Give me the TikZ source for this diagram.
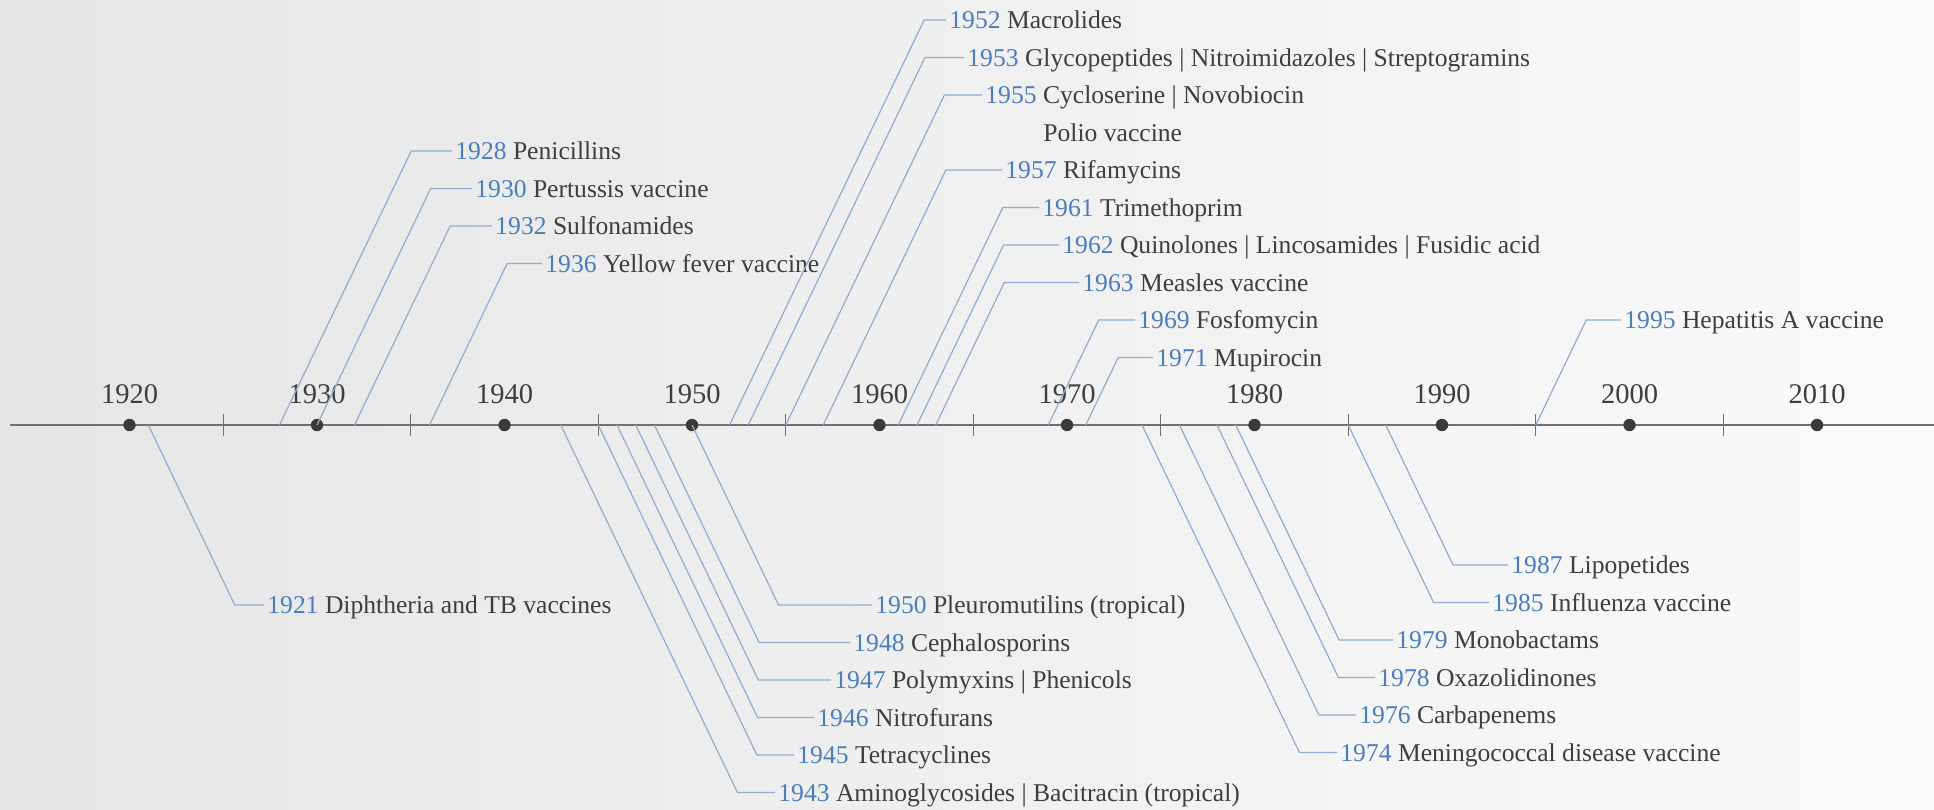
\documentclass[tikz,border=0pt]{standalone}
\usepackage{fontspec}
\setmainfont{Liberation Serif}
\usetikzlibrary{math,calc}
\definecolor{tlblue}{RGB}{74,126,187}
\definecolor{tlline}{RGB}{143,172,212}
\definecolor{tltext}{RGB}{62,62,62}
\definecolor{tlaxis}{RGB}{112,112,112}
\definecolor{tldot}{RGB}{58,58,58}
\tikzset{
  leader/.style={color=tlline, line width=0.6pt},
  evlabel/.style={anchor=base west, inner xsep=1.5pt, inner ysep=0pt, yshift=-4.3pt, text=tltext, font=\fontsize{12.8}{15}\selectfont},
  decade/.style={anchor=base, inner sep=0pt, text=tltext, font=\fontsize{14.25}{17}\selectfont},
  dot/.style={circle, fill=tldot, inner sep=0pt, minimum size=6.2pt},
  tick/.style={color=tlaxis, line width=0.7pt}
}

\begin{document}
\begin{tikzpicture}[x=0.5pt,y=-0.5pt]
\tikzmath{
\xo = 129.5;
\py = 18.75;
\ya = 425;
\slope = 2.08;
}

\shade[left color=gray!20, right color=gray!4] (0,0) rectangle (1934,809);
\useasboundingbox (0,0) rectangle (1934,809);

% axis
\coordinate (axl) at (10,\ya);
\coordinate (axr) at (1934,\ya);
\draw[color=tlaxis, line width=1pt] (axl) -- (axr);

\foreach \t in {1925,1935,...,2005}
  \draw[tick] ({\xo+(\t-1920)*\py},\ya-11) -- ++(0,22);

\foreach \d in {1920,1930,...,2010} {
  \node[dot] (d\d) at ({\xo+(\d-1920)*\py},\ya) {};
  \node[decade] (lab\d) at ({\xo+(\d-1920)*\py},403) {\d};
}

% events: year / row / text x / name
\foreach \ev/\row/\tx/\name in {
  1921/605/267/Diphtheria and TB vaccines,
  1928/151/455/Penicillins,
  1930/188.5/475/Pertussis vaccine,
  1932/226/495/Sulfonamides,
  1936/263.5/545/Yellow fever vaccine,
  1943/792.5/778/Aminoglycosides | Bacitracin (tropical),
  1945/755/797/Tetracyclines,
  1946/717.5/817/Nitrofurans,
  1947/680/834/Polymyxins | Phenicols,
  1948/642.5/853/Cephalosporins,
  1950/605/875/Pleuromutilins (tropical),
  1952/20/949/Macrolides,
  1953/57.5/967/Glycopeptides | Nitroimidazoles | Streptogramins,
  1955/95/985/Cycloserine | Novobiocin,
  1957/170/1005/Rifamycins,
  1961/207.5/1042/Trimethoprim,
  1962/245/1062/Quinolones | Lincosamides | Fusidic acid,
  1963/282.5/1082/Measles vaccine,
  1969/320/1138/Fosfomycin,
  1971/357.5/1156/Mupirocin,
  1974/752.5/1340/Meningococcal disease vaccine,
  1976/715/1359/Carbapenems,
  1978/677.5/1378/Oxazolidinones,
  1979/640/1396/Monobactams,
  1985/602.5/1492/Influenza vaccine,
  1987/565/1511/Lipopetides,
  1995/320/1624/Hepatitis A vaccine} {
  \coordinate (a\ev) at ({\xo+(\ev-1920)*\py},\ya);
  \coordinate (k\ev) at ({\xo+(\ev-1920)*\py+abs(\row-\ya)/\slope},\row);
  \node[evlabel] (ev\ev) at ({\tx-3},\row) {\textcolor{tlblue}{\ev} \name};
  \draw[leader] (a\ev) -- (k\ev) -- (k\ev -| ev\ev.west);
}

\node[evlabel] (polio) at (1040,132.5) {Polio vaccine};

\end{tikzpicture}
\end{document}
